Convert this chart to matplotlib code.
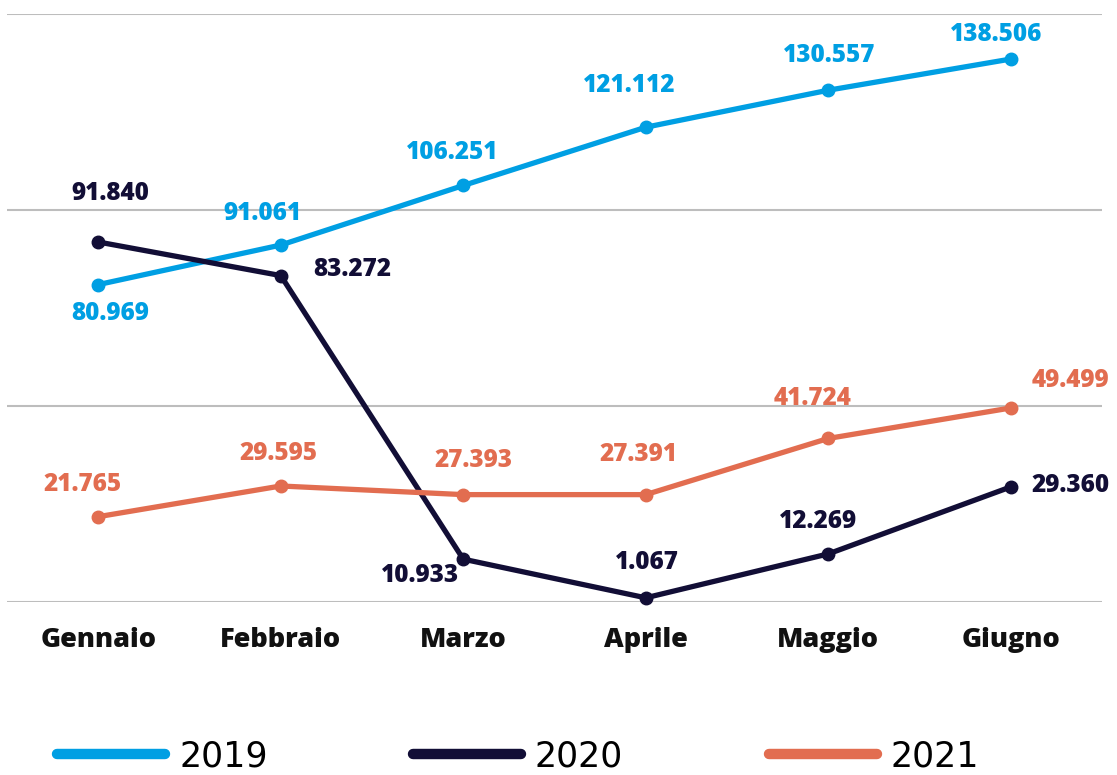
import matplotlib.pyplot as plt
from matplotlib.lines import Line2D

mesi = ['Gennaio', 'Febbraio', 'Marzo', 'Aprile', 'Maggio', 'Giugno']
v2019 = [80.969, 91.061, 106.251, 121.112, 130.557, 138.506]
v2020 = [91.840, 83.272, 10.933, 1.067, 12.269, 29.360]
v2021 = [21.765, 29.595, 27.393, 27.391, 41.724, 49.499]

colori = {'2019': '#009fe3', '2020': '#120e36', '2021': '#e26d50'}

# label offsets in pixels (dx, dy) for each point
off2019 = [(12, -29), (-18, 32), (-11, 33), (-17, 42), (1, 35), (-15, 25)]
off2020 = [(12, 48), (71, 6), (-43, -16), (1, 35), (-10, 32), (60, 1)]
off2021 = [(-16, 32), (-2, 32), (10, 34), (-7, 40), (-16, 40), (60, 27)]

def fmt(v):
    return f'{v:.3f}'

fig = plt.figure(figsize=(11.17, 7.75), dpi=100)
ax = fig.add_axes([7 / 1117, 1 - 602 / 775, 1095 / 1117, 588 / 775])

x = range(len(mesi))
for anno, vals, offs in [('2019', v2019, off2019), ('2020', v2020, off2020), ('2021', v2021, off2021)]:
    c = colori[anno]
    ax.plot(x, vals, color=c, lw=3.8, marker='o', ms=9, clip_on=False, zorder=3,
            solid_capstyle='round')
    for i, v in enumerate(vals):
        ax.annotate(fmt(v), (i, v), xytext=offs[i], textcoords='offset pixels',
                    ha='center', va='center', color=c, fontsize=17.5,
                    fontweight=800, family='Open Sans', zorder=4)

ax.set_xlim(-0.5, 5.5)
ax.set_ylim(0, 150)
ax.set_yticks([0, 50, 100, 150])
ax.yaxis.grid(True, color='#bdbdbd', lw=1.5)
ax.set_axisbelow(True)
ax.tick_params(axis='y', left=False, labelleft=False)
ax.tick_params(axis='x', length=0, pad=18)
ax.set_xticks(list(x))
ax.set_xticklabels(mesi, fontsize=19.5, fontweight=800, family='Open Sans', color='#111111')
for s in ax.spines.values():
    s.set_visible(False)

handles = [Line2D([], [], color=colori[a], lw=7.5, solid_capstyle='round') for a in colori]
fig.legend(handles, list(colori.keys()), loc='center', bbox_to_anchor=(0.464, 0.024),
           ncol=3, frameon=False, handlelength=3.1, handletextpad=0.4,
           columnspacing=4.2, prop={'family': 'DejaVu Sans', 'size': 25})

fig.savefig('out.png', dpi=100)
